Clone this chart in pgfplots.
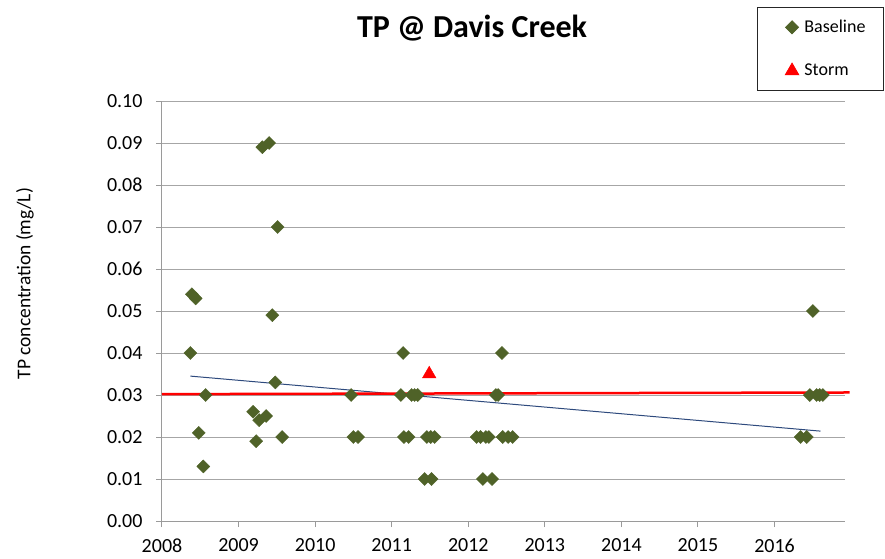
\documentclass[border=0pt]{standalone}
\usepackage{fontspec}
\setmainfont{Carlito}
\usepackage{pgfplots}
\pgfplotsset{compat=1.18}
\definecolor{baseline}{HTML}{4F6228}
\definecolor{trend}{HTML}{2E4A7D}
\definecolor{gridgray}{HTML}{A6A6A6}
\definecolor{axgray}{HTML}{9A9A9A}
\begin{document}
\begin{tikzpicture}[x=1pt,y=1pt]
\path[use as bounding box] (-162,-37) rectangle (723,521);
\begin{axis}[
  at={(0,0)}, anchor=south west,
  scale only axis, width=683pt, height=420pt,
  clip=false,
  xmin=2008, xmax=2016.92, ymin=0, ymax=0.1,
  xtick={2008,2009,2010,2011,2012,2013,2014,2015,2016},
  ytick={0,0.01,0.02,0.03,0.04,0.05,0.06,0.07,0.08,0.09,0.1},
  /pgf/number format/assume math mode=true,
  xticklabel style={/pgf/number format/1000 sep={}, font=\fontsize{20}{24}\selectfont, yshift=-8pt},
  yticklabel style={/pgf/number format/.cd, fixed, fixed zerofill, precision=2, /tikz/.cd, font=\fontsize{20}{24}\selectfont, xshift=-10pt},
  axis x line*=bottom, axis y line*=left,
  axis line style={draw=axgray, line width=1pt, -},
  tick align=outside, major tick length=6pt,
  tick style={draw=axgray, line width=1pt},
  ymajorgrids, grid style={draw=gridgray, line width=1pt},
  title={TP @ Davis Creek},
  title style={at={(axis description cs:0.454,1.16)}, anchor=center, font=\bfseries\fontsize{32}{38}\selectfont},
  ylabel={TP concentration (mg/L)},
  ylabel style={at={(axis description cs:-0.2006,0.565)}, anchor=center, font=\fontsize{19.5}{23}\selectfont},
  legend style={at={(1.057,1.224)}, anchor=north east, draw=black!85, line width=0.8pt,
    font=\fontsize{18}{22}\selectfont, inner xsep=16pt, inner ysep=11pt, row sep=26pt,
    legend cell align=left, /tikz/every odd column/.append style={column sep=3pt}},
  legend image code/.code={\path (-18pt,0pt) (7pt,0pt); \draw[#1] plot coordinates {(0pt,0pt)};},
]
\addplot[only marks, mark=square*, mark size=4.6pt, mark options={rotate=45, draw=baseline, fill=baseline}] coordinates {
(2008.37,0.040) (2008.39,0.054) (2008.44,0.053) (2008.48,0.021) (2008.54,0.013) (2008.57,0.030)
(2009.19,0.026) (2009.23,0.019) (2009.27,0.024) (2009.36,0.025) (2009.31,0.089) (2009.40,0.090)
(2009.44,0.049) (2009.48,0.033) (2009.51,0.070) (2009.57,0.020)
(2010.47,0.030) (2010.50,0.020) (2010.56,0.020)
(2011.12,0.030) (2011.15,0.040) (2011.16,0.020) (2011.22,0.020) (2011.26,0.030) (2011.30,0.030)
(2011.34,0.030) (2011.43,0.010) (2011.46,0.020) (2011.51,0.020) (2011.52,0.010) (2011.56,0.020)
(2012.11,0.020) (2012.16,0.020) (2012.19,0.010) (2012.23,0.020) (2012.27,0.020) (2012.31,0.010)
(2012.36,0.030) (2012.39,0.030) (2012.44,0.040) (2012.45,0.020) (2012.52,0.020) (2012.58,0.020)
(2016.34,0.020) (2016.42,0.020) (2016.46,0.030) (2016.50,0.050) (2016.55,0.030) (2016.59,0.030) (2016.63,0.030)
};
\addlegendentry{Baseline}
\addplot[only marks, mark=triangle*, mark size=7.8pt, mark options={draw=red, fill=red}] coordinates {
(2011.49,0.035)
};
\addlegendentry{Storm}
\addplot[forget plot, draw=trend, line width=1pt] coordinates {(2008.37,0.0345) (2016.60,0.0214)};
\addplot[forget plot, draw=red, line width=2.5pt] coordinates {(2008.0,0.0302) (2016.98,0.0306)};
\end{axis}
\end{tikzpicture}
\end{document}
